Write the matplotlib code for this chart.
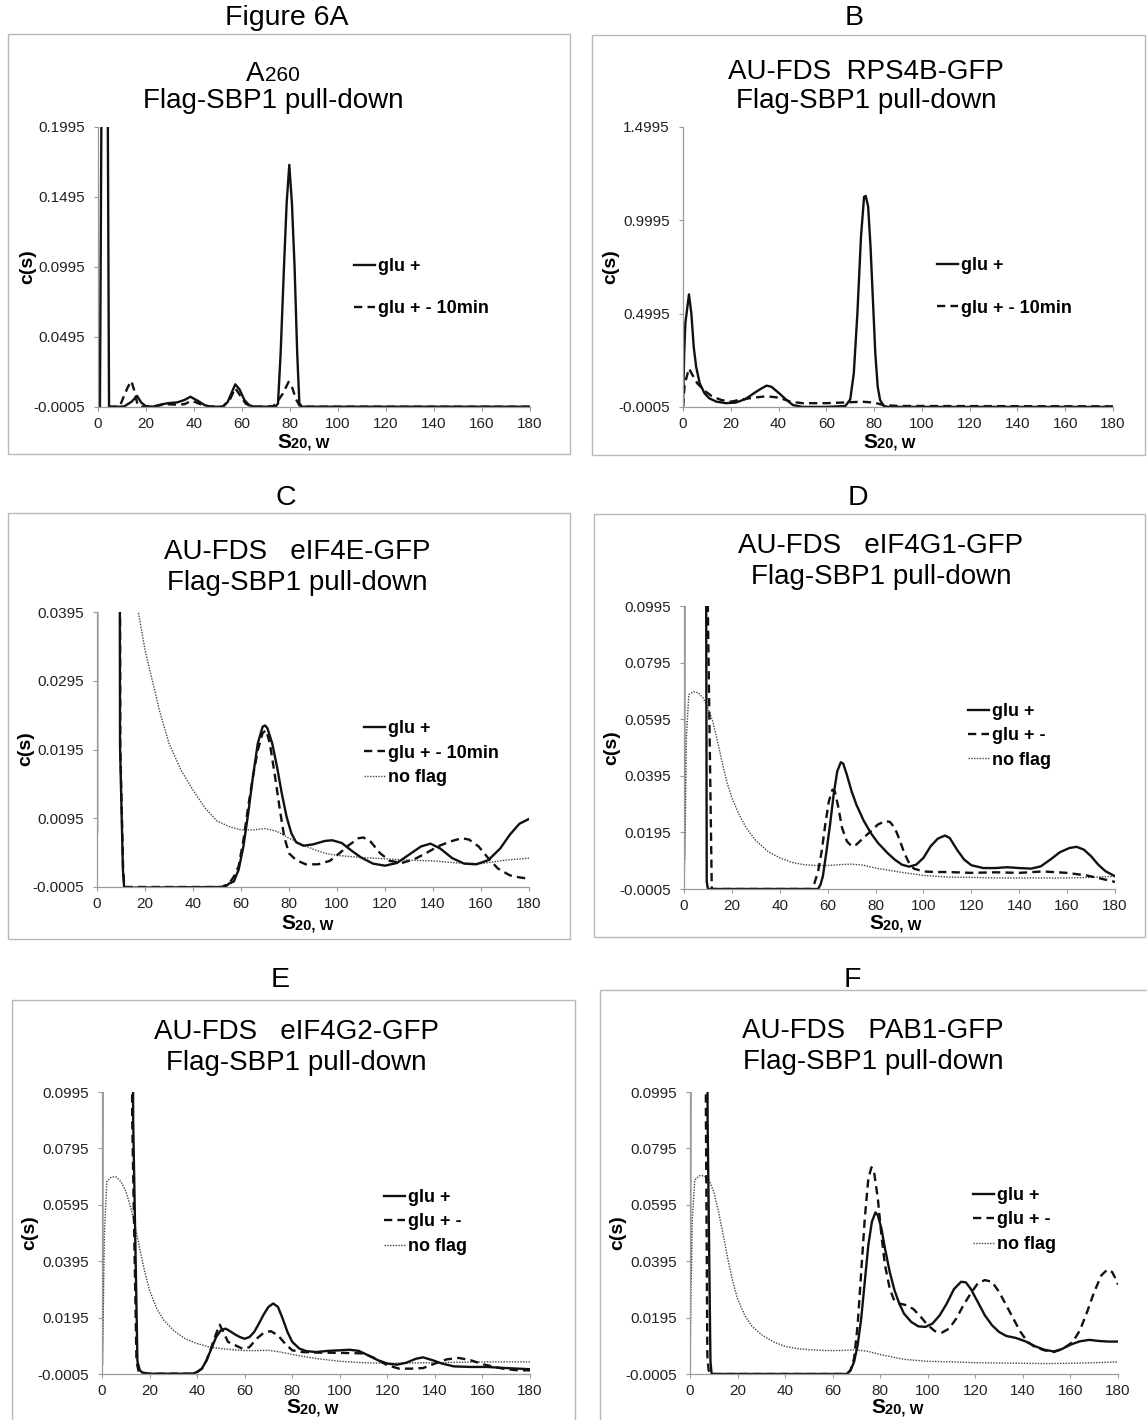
import matplotlib
matplotlib.use("Agg")
import matplotlib.pyplot as plt
from matplotlib.patches import Rectangle

plt.rcParams['font.family'] = ['Liberation Sans', 'DejaVu Sans']

W, H = 1147, 1420

# ---- data (s = S20,w ; c = c(s)) ----
x_ticks = [0, 20, 40, 60, 80, 100, 120, 140, 160, 180]
a_yticks = [-0.0005, 0.0495, 0.0995, 0.1495, 0.1995]
b_yticks = [-0.0005, 0.4995, 0.9995, 1.4995]
c_yticks = [-0.0005, 0.0095, 0.0195, 0.0295, 0.0395]
def_yticks = [-0.0005, 0.0195, 0.0395, 0.0595, 0.0795, 0.0995]

# A  (A260)
a_glu_s = [0.8, 1.4, 2.8, 4.1, 4.6, 9, 11, 14, 16.3, 18, 20, 23, 26, 29, 33, 36, 38.5, 41.5, 44.5, 47,
           52, 54, 55.5, 57.2, 59, 61, 63, 65, 74, 75, 76.1, 77.5, 78.6, 79.7, 80.8, 81.9, 83, 83.9, 85, 90, 180]
a_glu_c = [-0.0003, 0.2, 0.35, 0.2, -0.0003, -0.0003, 0.0, 0.0033, 0.0074, 0.0027, 0.0, -0.0002, 0.0012,
           0.0022, 0.0028, 0.0045, 0.0068, 0.004, 0.0008, -0.0003, -0.0003, 0.003, 0.009, 0.0157, 0.012,
           0.0045, 0.0008, -0.0003, -0.0003, 0.002, 0.038, 0.1, 0.145, 0.1724, 0.145, 0.1, 0.038, 0.002,
           -0.0003, -0.0003, -0.0003]
a_10m_s = [4.6, 9, 10.5, 12.5, 13.9, 15, 16.5, 18, 24, 28, 33, 36, 39, 42, 45, 52, 55, 57.2, 59.5, 61.5,
           64, 73, 75, 77, 79.4, 81, 82.5, 84, 86, 180]
a_10m_c = [-0.0003, -0.0003, 0.006, 0.014, 0.018, 0.012, 0.001, -0.0003, 0.0, 0.0015, 0.0012, 0.0015,
           0.004, 0.002, 0.0, -0.0003, 0.005, 0.013, 0.007, 0.002, -0.0003, 0.0, 0.004, 0.009, 0.0174,
           0.013, 0.005, 0.0005, -0.0003, -0.0003]

# B  (RPS4B-GFP)
b_glu_s = [0, 0.5, 1, 2.5, 3.5, 4.5, 5.5, 7, 9, 11, 14, 18, 22, 26, 30, 33, 35, 37, 40, 43, 46, 50, 60,
           68, 70, 71.5, 73, 74.5, 75.8, 76.5, 77.5, 78.5, 79.5, 80.5, 81.5, 82.5, 84, 86, 180]
b_glu_c = [0, 0.287, 0.45, 0.603, 0.5, 0.32, 0.215, 0.126, 0.073, 0.046, 0.028, 0.02, 0.023, 0.041,
           0.076, 0.1, 0.114, 0.108, 0.076, 0.041, 0.01, 0.0, 0.0, 0.005, 0.04, 0.18, 0.5, 0.91, 1.126,
           1.13, 1.073, 0.858, 0.573, 0.287, 0.108, 0.037, 0.005, 0.0, 0.0]
b_10m_s = [0, 0.7, 2.5, 4, 6, 9, 12, 16, 20, 25, 30, 35, 40, 45, 50, 60, 70, 75, 80, 84, 90, 180]
b_10m_c = [0, 0.12, 0.206, 0.17, 0.126, 0.087, 0.058, 0.037, 0.028, 0.041, 0.05, 0.057, 0.05, 0.028,
           0.02, 0.02, 0.025, 0.028, 0.023, 0.01, 0.005, 0.003]

# C  (eIF4E-GFP)
c_glu_s = [0, 0.4, 8.5, 9.6, 10.8, 11.3, 12, 53.4, 55, 57, 59, 61, 63, 65, 67, 69, 70, 71, 73, 75, 77,
           79, 81, 83, 86, 90, 95, 98, 102, 106, 110, 115, 120, 125, 130, 135, 139, 143, 148, 153, 158,
           163, 168, 172, 176, 180]
c_glu_c = [0.0075, 0.3, 0.3, 0.02, 0.002, -0.0005, -0.0006, -0.0005, 0.0, 0.0003, 0.002, 0.0054,
           0.0102, 0.0156, 0.0204, 0.0228, 0.023, 0.0226, 0.0204, 0.017, 0.0131, 0.0097, 0.0073, 0.006,
           0.0055, 0.0057, 0.0062, 0.0063, 0.0059, 0.0048, 0.0038, 0.0029, 0.0026, 0.003, 0.0042,
           0.0054, 0.0058, 0.0051, 0.0037, 0.0029, 0.0028, 0.0034, 0.0051, 0.0071, 0.0087, 0.0094]
c_10m_s = [8.5, 9.7, 10.9, 11.4, 52, 55, 57, 59, 61, 63, 65, 67, 69, 70.5, 72, 74, 76, 78, 80, 83, 87,
           92, 97, 101, 105, 109, 111, 114, 118, 122, 127, 132, 137, 142, 147, 152, 155, 159, 163, 167,
           172, 176, 180]
c_10m_c = [0.3, 0.02, 0.002, -0.0005, -0.0005, 0.0, 0.001, 0.0025, 0.0063, 0.0112, 0.0156, 0.0194,
           0.0219, 0.0223, 0.0204, 0.016, 0.0112, 0.0068, 0.0044, 0.0034, 0.0028, 0.0028, 0.0033,
           0.0044, 0.0056, 0.0066, 0.0067, 0.0061, 0.0044, 0.0033, 0.003, 0.0035, 0.0044, 0.0054,
           0.0061, 0.0066, 0.0064, 0.0054, 0.0037, 0.0022, 0.0012, 0.0009, 0.0007]
c_nof_s = [0, 0.3, 12, 15, 17.2, 20, 23, 26, 30, 35, 40, 45, 50, 55, 60, 65, 70, 75, 80, 85, 90, 95,
           100, 110, 120, 130, 140, 150, 160, 170, 180]
c_nof_c = [-0.0005, 0.1, 0.1, 0.05, 0.0395, 0.034, 0.0296, 0.0252, 0.0204, 0.0165, 0.0136, 0.011,
           0.0091, 0.0083, 0.0078, 0.0078, 0.008, 0.0076, 0.0066, 0.0058, 0.005, 0.0044, 0.0041,
           0.0038, 0.0036, 0.0034, 0.0033, 0.003, 0.0029, 0.0034, 0.0037]

# D  (eIF4G1-GFP)
d_glu_s = [0, 0.3, 8.8, 9.5, 10, 56, 57, 58, 59.5, 61, 62.5, 64, 65.5, 66.5, 68, 70, 72, 75, 78, 81, 85,
           88, 91, 94, 97, 100, 103, 106, 109, 111, 114, 117, 120, 125, 130, 135, 140, 145, 149, 153,
           157, 161, 164, 167, 170, 173, 176, 180]
d_glu_c = [0.01, 0.3, 0.3, 0.002, -0.0005, -0.0005, 0.001, 0.004, 0.0128, 0.0223, 0.0329, 0.0411,
           0.0443, 0.0438, 0.0399, 0.034, 0.0293, 0.0237, 0.0193, 0.0158, 0.0122, 0.0099, 0.0081,
           0.0074, 0.0081, 0.0105, 0.0146, 0.0173, 0.0184, 0.0175, 0.0134, 0.0099, 0.0079, 0.0069,
           0.0069, 0.0072, 0.0069, 0.0067, 0.0075, 0.0099, 0.0125, 0.014, 0.0144, 0.0134, 0.0111,
           0.0081, 0.0058, 0.004]
d_gm_s = [8.9, 9.6, 11.6, 53, 54.5, 56, 57.5, 59, 60.5, 62, 63, 64.5, 66, 68, 70, 72, 75, 78, 81, 84, 86,
          88, 90, 92, 94, 96, 100, 105, 110, 120, 130, 140, 150, 160, 168, 173, 180]
d_gm_c = [0.3, 0.12, -0.0005, -0.0005, 0.0016, 0.0057, 0.0128, 0.0223, 0.0305, 0.0346, 0.034, 0.0282,
          0.0211, 0.0164, 0.0146, 0.0152, 0.0176, 0.0199, 0.0223, 0.0235, 0.0232, 0.0211, 0.017,
          0.0122, 0.0087, 0.0067, 0.0057, 0.0055, 0.0055, 0.0052, 0.0054, 0.0052, 0.0057, 0.0052,
          0.0043, 0.0034, 0.002]
d_nof_s = [0, 0.5, 1, 2, 4, 6, 8, 10, 12, 14, 16, 18, 20, 23, 26, 30, 35, 40, 45, 50, 55, 60, 65, 70,
           75, 80, 90, 100, 110, 120, 130, 140, 150, 160, 170, 180]
d_nof_c = [-0.0005, 0.0199, 0.053, 0.0682, 0.0692, 0.0688, 0.067, 0.0635, 0.0588, 0.0517, 0.044,
           0.037, 0.0317, 0.0258, 0.0211, 0.0166, 0.0128, 0.0105, 0.0089, 0.0081, 0.0078, 0.0078,
           0.0081, 0.0083, 0.0079, 0.0069, 0.0055, 0.0043, 0.0037, 0.0036, 0.0034, 0.0034, 0.0034,
           0.0034, 0.0036, 0.004]

# E  (eIF4G2-GFP)
e_glu_s = [0, 0.3, 12.5, 13.1, 14.9, 15.9, 17, 20, 38, 40, 42, 44, 46, 48, 50, 52, 54, 56, 58, 60, 62,
           64, 66, 68, 70, 72, 74, 76, 78, 80, 83, 86, 90, 95, 100, 104, 108, 112, 116, 120, 124, 128,
           132, 135, 139, 143, 148, 155, 162, 170, 175, 180]
e_glu_c = [0.003, 0.3, 0.28, 0.09, 0.004, 0.0008, 0.0, -0.0004, -0.0004, 0.0002, 0.0014, 0.0044,
           0.0085, 0.0126, 0.015, 0.0156, 0.0146, 0.0135, 0.0126, 0.012, 0.0126, 0.0144, 0.0174,
           0.0206, 0.0233, 0.0245, 0.0233, 0.0191, 0.0144, 0.0109, 0.0085, 0.0076, 0.0073, 0.0077,
           0.0079, 0.0081, 0.0077, 0.0061, 0.0044, 0.0032, 0.0028, 0.0035, 0.0049, 0.0054, 0.0044,
           0.0032, 0.0022, 0.002, 0.002, 0.0016, 0.0014, 0.0012]
e_gm_s = [12.1, 12.7, 14.5, 15.5, 17, 38, 40, 42, 44, 46, 48, 49.5, 51, 53, 56, 59, 62, 65, 68, 71, 74,
          77, 80, 84, 90, 100, 110, 115, 120, 125, 130, 135, 140, 145, 150, 155, 160, 165, 170, 175, 180]
e_gm_c = [0.28, 0.09, 0.004, 0.0, -0.0004, -0.0004, 0.0002, 0.0014, 0.0044, 0.009, 0.0138, 0.017,
          0.0144, 0.0109, 0.0097, 0.0085, 0.009, 0.012, 0.0141, 0.0147, 0.0132, 0.0103, 0.0079,
          0.0073, 0.0071, 0.007, 0.0068, 0.005, 0.0026, 0.0014, 0.0014, 0.0016, 0.0032, 0.0047,
          0.0052, 0.0044, 0.003, 0.002, 0.0012, 0.0008, 0.0008]
e_nof_s = [0, 0.5, 1, 2, 4, 6, 8, 10, 12, 14, 16, 18, 20, 23, 26, 30, 35, 40, 45, 50, 55, 60, 65, 70,
           75, 80, 90, 100, 110, 120, 130, 140, 160, 180]
e_nof_c = [-0.0004, 0.0191, 0.0487, 0.0677, 0.0694, 0.0694, 0.0677, 0.0644, 0.0588, 0.0517, 0.0434,
           0.0357, 0.0292, 0.0227, 0.0186, 0.015, 0.012, 0.0103, 0.0091, 0.0085, 0.0081, 0.0078,
           0.0078, 0.0079, 0.0073, 0.0064, 0.005, 0.004, 0.0035, 0.0033, 0.0034, 0.0035, 0.0038,
           0.0038]

# F  (PAB1-GFP)
f_glu_s = [0, 0.3, 6.5, 6.8, 7.4, 8.6, 9.1, 66, 67.5, 69, 70.5, 72, 73.5, 75, 76.5, 78, 79, 80.5, 82,
           84, 86, 88, 90, 93, 96, 99, 102, 105, 108, 111, 114, 116, 118, 121, 124, 127, 130, 133,
           137, 141, 145, 149, 153, 156, 160, 164, 168, 172, 176, 180]
f_glu_c = [0.033, 0.3, 0.3, 0.28, 0.09, 0.004, -0.0005, -0.0005, 0.0008, 0.0038, 0.0097, 0.0191,
           0.0322, 0.0452, 0.0535, 0.0568, 0.0558, 0.0511, 0.044, 0.0357, 0.0292, 0.0245, 0.0209,
           0.018, 0.0164, 0.0162, 0.0174, 0.0203, 0.0245, 0.0296, 0.0322, 0.032, 0.0298, 0.0251,
           0.0203, 0.0168, 0.0144, 0.013, 0.0123, 0.0111, 0.0094, 0.0081, 0.0075, 0.0082, 0.0099,
           0.0111, 0.0116, 0.0112, 0.011, 0.011]
f_gm_s = [6.3, 6.7, 7.3, 7.8, 8.5, 66, 67.5, 69, 70.5, 72, 73.5, 75, 76.3, 77.5, 79, 80.5, 82, 84, 86,
          88, 91, 94, 97, 100, 103, 106, 109, 112, 115, 118, 121, 124, 127, 130, 133, 136, 139, 142,
          145, 149, 153, 157, 161, 164, 167, 170, 173, 175.5, 177.5, 179, 180]
f_gm_c = [0.28, 0.09, 0.006, 0.001, -0.0005, -0.0005, 0.0008, 0.005, 0.0168, 0.0357, 0.0546, 0.0688,
          0.0728, 0.0706, 0.0617, 0.0487, 0.0381, 0.0298, 0.0253, 0.0245, 0.0239, 0.0225, 0.0198,
          0.0168, 0.0147, 0.0142, 0.0156, 0.0192, 0.0239, 0.028, 0.0316, 0.0328, 0.0322, 0.0286,
          0.0239, 0.0191, 0.0144, 0.0109, 0.0091, 0.0079, 0.0073, 0.0085, 0.0109, 0.015, 0.0215,
          0.0286, 0.0345, 0.0365, 0.0357, 0.0333, 0.0312]
f_nof_s = [0, 0.5, 1, 2, 4, 6, 8, 10, 12, 14, 16, 18, 20, 23, 26, 30, 35, 40, 45, 50, 55, 60, 65, 70,
           75, 80, 90, 100, 110, 120, 130, 140, 150, 160, 170, 180]
f_nof_c = [-0.0005, 0.031, 0.0546, 0.0683, 0.0698, 0.0698, 0.0683, 0.0641, 0.057, 0.0487, 0.0399,
           0.0322, 0.0262, 0.0203, 0.0165, 0.0135, 0.0109, 0.0093, 0.0085, 0.0081, 0.0079, 0.0078,
           0.0079, 0.0081, 0.0075, 0.0064, 0.0047, 0.004, 0.0038, 0.0035, 0.0034, 0.0033, 0.0032,
           0.0033, 0.0035, 0.0038]

fig = plt.figure(figsize=(W / 100, H / 100), dpi=100)


def fx(x):
    return x / W


def fy(y):
    return 1 - y / H


def box(l, t, r, b):
    fig.add_artist(Rectangle((fx(l), fy(b)), (r - l) / W, (b - t) / H, transform=fig.transFigure,
                             fill=False, ec='#b8b8b8', lw=1.0))


def make_axes(l, t, r, b, yticks):
    ax = fig.add_axes([fx(l), fy(b), (r - l) / W, (b - t) / H])
    ax.patch.set_alpha(0)
    ax.set_xlim(0, 180)
    ax.set_ylim(yticks[0], yticks[-1])
    ax.set_xticks(x_ticks)
    ax.set_yticks(yticks)
    ax.set_yticklabels(['%.4f' % v for v in yticks])
    for side in ('top', 'right'):
        ax.spines[side].set_visible(False)
    for side in ('left', 'bottom'):
        ax.spines[side].set_color('#9a9a9a')
        ax.spines[side].set_linewidth(0.9)
    ax.tick_params(direction='out', length=3, width=0.8, color='#9a9a9a',
                   labelsize=11, labelcolor='#222222')
    ax.tick_params(axis='y', pad=6.5)
    ax.tick_params(axis='x', pad=4.5)
    return ax


def solid(ax, s, c):
    return ax.plot(s, c, color='#111111', lw=1.7, solid_joinstyle='round')[0]


def dashed(ax, s, c):
    return ax.plot(s, c, color='#111111', lw=1.7, linestyle=(0, (3.5, 2.2)))[0]


def dotted(ax, s, c):
    return ax.plot(s, c, color='#444444', lw=1.0, linestyle=(0, (1, 1)))[0]


def legend(ax, handles, labels, x, y, spacing):
    ax.legend(handles, labels, loc='center left', bbox_to_anchor=(fx(x), fy(y)),
              bbox_transform=fig.transFigure, frameon=False, borderpad=0, borderaxespad=0,
              handlelength=1.15, handletextpad=0.2, labelspacing=spacing,
              prop={'weight': 'bold', 'size': 13})


def ylab(x, y):
    fig.text(fx(x), fy(y), 'c(s)', rotation=90, ha='center', va='center',
             fontsize=14, fontweight='bold')


def xlab(cx, y):
    x0 = cx - 12
    fig.text(fx(x0), fy(y), 'S', ha='right', va='baseline', fontsize=15, fontweight='bold')
    fig.text(fx(x0), fy(y), '20, W', ha='left', va='baseline', fontsize=10.5, fontweight='bold')


def title(cx, y1, line1, y2):
    if line1 is not None:
        fig.text(fx(cx), fy(y1), line1, ha='center', va='center', fontsize=20)
    fig.text(fx(cx), fy(y2), 'Flag-SBP1 pull-down', ha='center', va='center', fontsize=20)


# panel letters
for txt, x, y in [('Figure 6A', 287, 18), ('B', 854, 18), ('C', 286, 498),
                  ('D', 858, 498), ('E', 280, 980), ('F', 852, 980)]:
    fig.text(fx(x), fy(y), txt, ha='center', va='center', fontsize=20.5)

# outer boxes
box(8, 34, 570, 454)
box(592, 35, 1145, 455)
box(8, 513, 570, 939)
box(594, 514, 1145, 937)
box(12, 1000, 575, 1430)
box(600, 990, 1150, 1430)

# ---- A ----
ax = make_axes(98, 127, 530, 407, a_yticks)
h1 = solid(ax, a_glu_s, a_glu_c)
h2 = dashed(ax, a_10m_s, a_10m_c)
legend(ax, [h1, h2], ['glu +', 'glu + - 10min'], 354, 287.5, 1.4)
fig.text(fx(264.5), fy(81), 'A', ha='right', va='baseline', fontsize=20)
fig.text(fx(264.5), fy(81), '260', ha='left', va='baseline', fontsize=15)
title(273, None, None, 101)
ylab(28, 267)
xlab(303, 448)

# ---- B ----
ax = make_axes(683, 127, 1113, 407, b_yticks)
h1 = solid(ax, b_glu_s, b_glu_c)
h2 = dashed(ax, b_10m_s, b_10m_c)
legend(ax, [h1, h2], ['glu +', 'glu + - 10min'], 937, 287, 1.4)
title(866, 72, 'AU-FDS  RPS4B-GFP', 101)
ylab(611, 267)
xlab(889, 448)

# ---- C ----
ax = make_axes(97, 612, 529, 887, c_yticks)
h3 = dotted(ax, c_nof_s, c_nof_c)
h2 = dashed(ax, c_10m_s, c_10m_c)
h1 = solid(ax, c_glu_s, c_glu_c)
legend(ax, [h1, h2, h3], ['glu +', 'glu + - 10min', 'no flag'], 364, 753, 0.42)
title(297, 552, 'AU-FDS   eIF4E-GFP', 583)
ylab(26, 749)
xlab(307, 929)

# ---- D ----
ax = make_axes(684, 606, 1115, 889, def_yticks)
h3 = dotted(ax, d_nof_s, d_nof_c)
h2 = dashed(ax, d_gm_s, d_gm_c)
h1 = solid(ax, d_glu_s, d_glu_c)
legend(ax, [h1, h2, h3], ['glu +', 'glu + -', 'no flag'], 968, 736, 0.4)
title(881, 546, 'AU-FDS   eIF4G1-GFP', 577)
ylab(612, 748)
xlab(895, 929)

# ---- E ----
ax = make_axes(102, 1092, 530, 1374, def_yticks)
h3 = dotted(ax, e_nof_s, e_nof_c)
h2 = dashed(ax, e_gm_s, e_gm_c)
h1 = solid(ax, e_glu_s, e_glu_c)
legend(ax, [h1, h2, h3], ['glu +', 'glu + -', 'no flag'], 384, 1222, 0.42)
title(296, 1032, 'AU-FDS   eIF4G2-GFP', 1063)
ylab(30, 1233)
xlab(312, 1413)

# ---- F ----
ax = make_axes(690, 1092, 1118, 1374, def_yticks)
h3 = dotted(ax, f_nof_s, f_nof_c)
h2 = dashed(ax, f_gm_s, f_gm_c)
h1 = solid(ax, f_glu_s, f_glu_c)
legend(ax, [h1, h2, h3], ['glu +', 'glu + -', 'no flag'], 973, 1220, 0.42)
title(873, 1031, 'AU-FDS   PAB1-GFP', 1062)
ylab(618, 1233)
xlab(897, 1413)

fig.savefig('out.png', dpi=100)
